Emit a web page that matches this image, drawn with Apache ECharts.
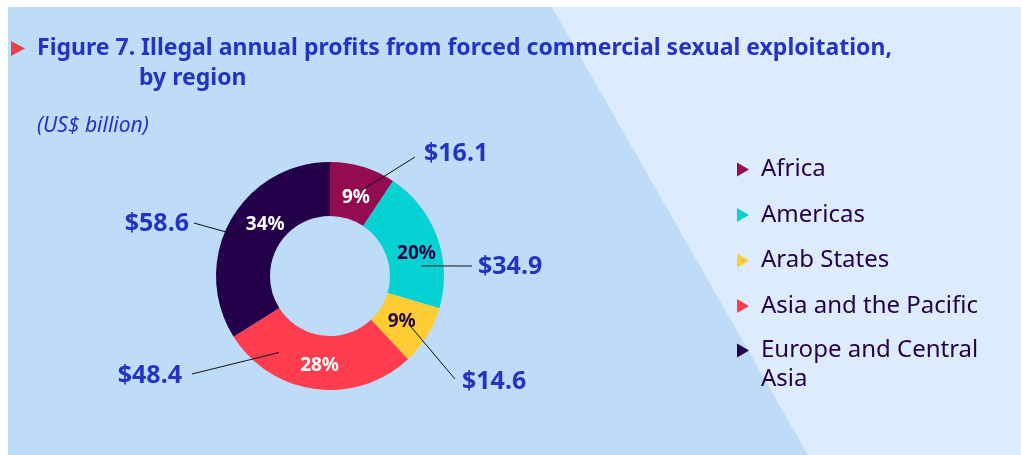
<!DOCTYPE html>
<html>
<head>
<meta charset="utf-8">
<script src="https://cdn.jsdelivr.net/npm/echarts@6/dist/echarts.min.js"></script>
<style>
  html, body { margin: 0; padding: 0; background: #fff; }
  #chart { width: 1021px; height: 455px; }
</style>
</head>
<body>
<div id="chart"></div>
<script>
// data (US$ billion)
const regions = ['Africa', 'Americas', 'Arab States', 'Asia and the Pacific', 'Europe and Central Asia']
const profits = [16.1, 34.9, 14.6, 48.4, 58.6]
const shares = [9, 20, 9, 28, 34]   // printed percentages

const colors = ['#930c51', '#06d2d3', '#ffcc33', '#ff3d4f', '#24004b']
const shareColors = ['#fff', '#24004b', '#24004b', '#fff', '#fff']
const shareNudge = [[0, 8], [2, 8], [-5, -2], [1, 0], [14, -8]]
// where the value labels sit; angle (deg from top) where the leader leaves the ring
const valueSpots = [
  { x: 424, y: 154, align: 'left', angle: 20.6, lx: 415, ly: 157 },
  { x: 478, y: 267, align: 'left', angle: 83.7, lx: 472, ly: 266 },
  { x: 462, y: 382, align: 'left', angle: 121.4, lx: 455, ly: 379 },
  { x: 182, y: 376, align: 'right', angle: 213.7, lx: 192, ly: 374 },
  { x: 189, y: 224, align: 'right', angle: 294.6, lx: 194, ly: 223 }
]

const pieCenter = [330, 276]
const blue = '#2433c4'
const ink = '#24004b'
const font = '"Noto Sans", sans-serif'

const chart = echarts.init(document.getElementById('chart'))

const legendIcon = 'path://M0,0L12,7L0,14Z'

chart.setOption({
  color: colors,
  animation: false,
  textStyle: { fontFamily: font },
  graphic: [
    { type: 'rect', z: -10, shape: { x: 8, y: 7, width: 1013, height: 448 }, style: { fill: '#dcecfc' } },
    { type: 'polygon', z: -9, shape: { points: [[8, 7], [552, 7], [808, 455], [8, 455]] }, style: { fill: '#bedcf8' } },
    { type: 'polygon', shape: { points: [[11, 41], [25, 48.5], [11, 56]] }, style: { fill: '#e8404f' } }
  ],
  title: [
    {
      text: 'Figure 7. Illegal annual profits from forced commercial sexual exploitation,',
      left: 37, top: 37, padding: 0,
      textStyle: { fontFamily: font, fontSize: 23, fontWeight: 'bold', color: blue }
    },
    {
      text: 'by region',
      left: 139, top: 67, padding: 0,
      textStyle: { fontFamily: font, fontSize: 23, fontWeight: 'bold', color: blue }
    },
    {
      text: '(US$ billion)',
      left: 37, top: 116, padding: 0,
      textStyle: { fontFamily: font, fontSize: 21, fontWeight: 'normal', fontStyle: 'italic', color: blue }
    }
  ],
  legend: [
    {
      orient: 'vertical',
      left: 737, top: 155, padding: 0,
      itemWidth: 12, itemHeight: 14, itemGap: 16.5,
      icon: legendIcon,
      data: regions.slice(0, 4),
      textStyle: { fontFamily: font, fontSize: 24, color: ink, lineHeight: 29, padding: [0, 0, 0, 7] }
    },
    {
      orient: 'vertical',
      left: 737, top: 307, padding: 0,
      itemWidth: 12, itemHeight: 14,
      icon: legendIcon,
      data: regions.slice(4),
      // a blank first line keeps the icon level with "Europe and Central"
      formatter: name => '\n' + name.replace(' Asia', '\nAsia'),
      textStyle: { fontFamily: font, fontSize: 24, color: ink, lineHeight: 29, padding: [0, 0, 0, 7] }
    }
  ],
  series: [
    {
      name: 'share',
      type: 'pie',
      center: pieCenter,
      radius: [60, 114],
      startAngle: 90,
      clockwise: true,
      silent: true,
      avoidLabelOverlap: false,
      itemStyle: { borderWidth: 0 },
      label: {
        position: 'inside',
        fontFamily: font,
        fontSize: 19,
        fontWeight: 'bold',
        formatter: p => shares[p.dataIndex] + '%'
      },
      labelLine: { show: false },
      labelLayout: p => ({ dx: shareNudge[p.dataIndex][0], dy: shareNudge[p.dataIndex][1] }),
      data: regions.map((name, i) => ({
        name, value: profits[i],
        label: { color: shareColors[i] }
      }))
    },
    {
      name: 'value',
      type: 'pie',
      z: 5,
      center: pieCenter,
      radius: [0, 92],
      startAngle: 90,
      clockwise: true,
      silent: true,
      avoidLabelOverlap: false,
      itemStyle: { color: 'rgba(0,0,0,0)' },
      label: {
        position: 'outside',
        fontFamily: font,
        fontSize: 25,
        fontWeight: 'bold',
        color: blue,
        formatter: p => '$' + profits[p.dataIndex].toFixed(1)
      },
      labelLine: { show: true, length: 10, length2: 10, lineStyle: { color: '#111', width: 1 } },
      labelLayout: p => {
        const s = valueSpots[p.dataIndex]
        let start = [s.lx, s.ly]
        if (p.labelLinePoints) {
          // slide the library's anchor point round the ring to the leader's angle
          const p0 = p.labelLinePoints[0]
          const r = Math.hypot(p0[0] - pieCenter[0], p0[1] - pieCenter[1])
          const a = s.angle * Math.PI / 180
          start = [pieCenter[0] + r * Math.sin(a), pieCenter[1] - r * Math.cos(a)]
        }
        return {
          x: s.x, y: s.y, align: s.align, verticalAlign: 'middle',
          labelLinePoints: [start, [s.lx, s.ly]]
        }
      },
      data: regions.map((name, i) => ({ name, value: profits[i] }))
    }
  ]
})
</script>
</body>
</html>
